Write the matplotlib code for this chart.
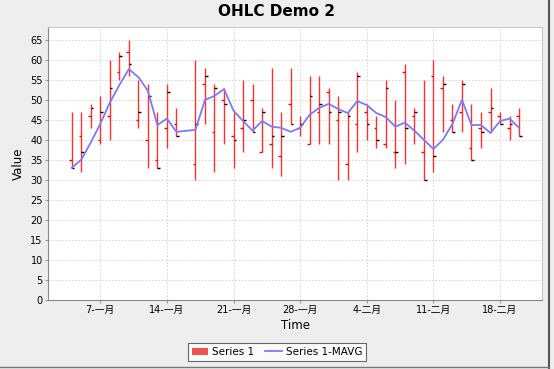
import matplotlib
matplotlib.use('Agg')
import matplotlib.pyplot as plt
import matplotlib.dates as mdates
import pandas as pd
from matplotlib.lines import Line2D
from matplotlib.patches import Patch

plt.rcParams['font.family'] = ['DejaVu Sans', 'Noto Sans CJK SC']

# 数据 (2001年1月-2月, 每日 OHLC)
dates = ['2001-01-04', '2001-01-05', '2001-01-06', '2001-01-07', '2001-01-08',
         '2001-01-09', '2001-01-10', '2001-01-11', '2001-01-12', '2001-01-13',
         '2001-01-14', '2001-01-15', '2001-01-17', '2001-01-18', '2001-01-19',
         '2001-01-20', '2001-01-21', '2001-01-22', '2001-01-23', '2001-01-24',
         '2001-01-25', '2001-01-26', '2001-01-27', '2001-01-28', '2001-01-29',
         '2001-01-30', '2001-01-31', '2001-02-01', '2001-02-02', '2001-02-03',
         '2001-02-04', '2001-02-05', '2001-02-06', '2001-02-07', '2001-02-08',
         '2001-02-09', '2001-02-10', '2001-02-11', '2001-02-12', '2001-02-13',
         '2001-02-14', '2001-02-15', '2001-02-16', '2001-02-17', '2001-02-18',
         '2001-02-19', '2001-02-20']
high = [47, 47, 49, 51, 60, 62, 65, 55, 54, 47, 54, 48, 60, 58, 54, 53, 47, 55, 54, 48,
        58, 47, 58, 46, 56, 56, 53, 51, 47, 57, 49, 46, 55, 50, 59, 48, 55, 60, 56, 49,
        55, 49, 47, 53, 47, 46, 48]
low = [33, 32, 43, 39, 40, 55, 56, 43, 33, 33, 38, 41, 30, 44, 32, 39, 33, 37, 42, 37,
       33, 31, 44, 41, 39, 39, 39, 30, 30, 37, 40, 38, 38, 33, 34, 39, 30, 32, 42, 42,
       42, 35, 38, 42, 44, 40, 41]
open_ = [35, 41, 46, 40, 46, 57, 62, 45, 40, 35, 43, 44, 34, 54, 42, 50, 41, 43, 50, 37,
         39, 36, 49, 43, 39, 47, 52, 45, 34, 44, 47, 43, 39, 37, 57, 46, 37, 56, 53, 45,
         47, 38, 43, 47, 46, 43, 46]
close = [33, 37, 48, 47, 53, 61, 59, 47, 51, 33, 52, 41, 44, 56, 53, 49, 40, 45, 42, 47,
         41, 41, 44, 44, 51, 49, 47, 47, 46, 56, 44, 40, 53, 37, 43, 47, 30, 36, 54, 42,
         54, 35, 42, 48, 44, 44, 41]
# Series 1-MAVG (3天移动平均, 读自图)
mavg = [33.0, 35.0, 39.3, 44.0, 49.3, 53.7, 57.7, 55.7, 52.3, 43.7, 45.3, 42.0, 42.5,
        50.0, 51.0, 52.7, 47.3, 44.7, 42.3, 44.7, 43.3, 43.0, 42.0, 43.0, 46.3, 48.0,
        49.0, 47.7, 46.7, 49.7, 48.7, 46.7, 45.7, 43.3, 44.3, 42.3, 40.0, 37.7, 40.0,
        44.0, 50.0, 43.7, 43.7, 41.7, 44.7, 45.3, 43.0]

tick_dates = ['2001-01-07', '2001-01-14', '2001-01-21', '2001-01-28',
              '2001-02-04', '2001-02-11', '2001-02-18']
tick_labels = ['7-一月', '14-一月', '21-一月', '28-一月', '4-二月', '11-二月', '18-二月']

x = mdates.date2num(pd.to_datetime(dates))
xt = mdates.date2num(pd.to_datetime(tick_dates))

fig = plt.figure(figsize=(5.54, 3.69), dpi=100, facecolor='#eeeeee')
ax = fig.add_axes([0.0872, 0.1883, 0.8917, 0.7385])
ax.set_facecolor('white')

w = 0.28  # 开/收盘刻度长度 (天)
ax.vlines(x, low, high, color='#ff3030', lw=1.0, zorder=3)
ax.hlines(open_, x - w, x, color='#ff0000', lw=1.0, zorder=4)
ax.hlines(close, x, x + w, color='black', lw=1.0, zorder=4)
ax.plot(x, mavg, color='#7a7aff', lw=1.3, zorder=5)

ax.set_xlim(x[0] - 2.46, x[-1] + 2.44)
ax.set_ylim(0, 68.25)
ax.set_yticks(range(0, 70, 5))
ax.set_xticks(xt)
ax.set_xticklabels(tick_labels)
ax.tick_params(labelsize=7, length=2, color='#999999', pad=2)
ax.grid(True, color='#d0d0d0', linestyle=(0, (2, 2)), lw=0.6)
ax.set_axisbelow(True)
for side in ['left', 'bottom']:
    ax.spines[side].set_color('#888888')
for side in ['top', 'right']:
    ax.spines[side].set_color('#bbbbbb')
    ax.spines[side].set_linewidth(0.6)

ax.set_xlabel('Time', fontsize=8.5, labelpad=3)
ax.set_ylabel('Value', fontsize=8.5, labelpad=4)
fig.suptitle('OHLC Demo 2', fontsize=11, fontweight='bold', y=0.99)

handles = [Patch(facecolor='#f05050', edgecolor='none'),
           Line2D([0], [0], color='#7a7aff', lw=1.3)]
leg = fig.legend(handles, ['Series 1', 'Series 1-MAVG'], loc='center',
                 bbox_to_anchor=(0.5, 1 - 352 / 369), ncol=2, fontsize=7.5,
                 frameon=True, fancybox=False, handlelength=1.6, handletextpad=0.4,
                 columnspacing=1.0, borderpad=0.35)
leg.get_frame().set_edgecolor('#444444')
leg.get_frame().set_linewidth(0.8)

# 外框 (右、下)
fig.add_artist(Line2D([549 / 554, 549 / 554], [1 / 369, 1], color='#555555', lw=1.5))
fig.add_artist(Line2D([0, 549 / 554], [2 / 369, 2 / 369], color='#777777', lw=1))

fig.savefig('out.png', dpi=100, facecolor=fig.get_facecolor())
